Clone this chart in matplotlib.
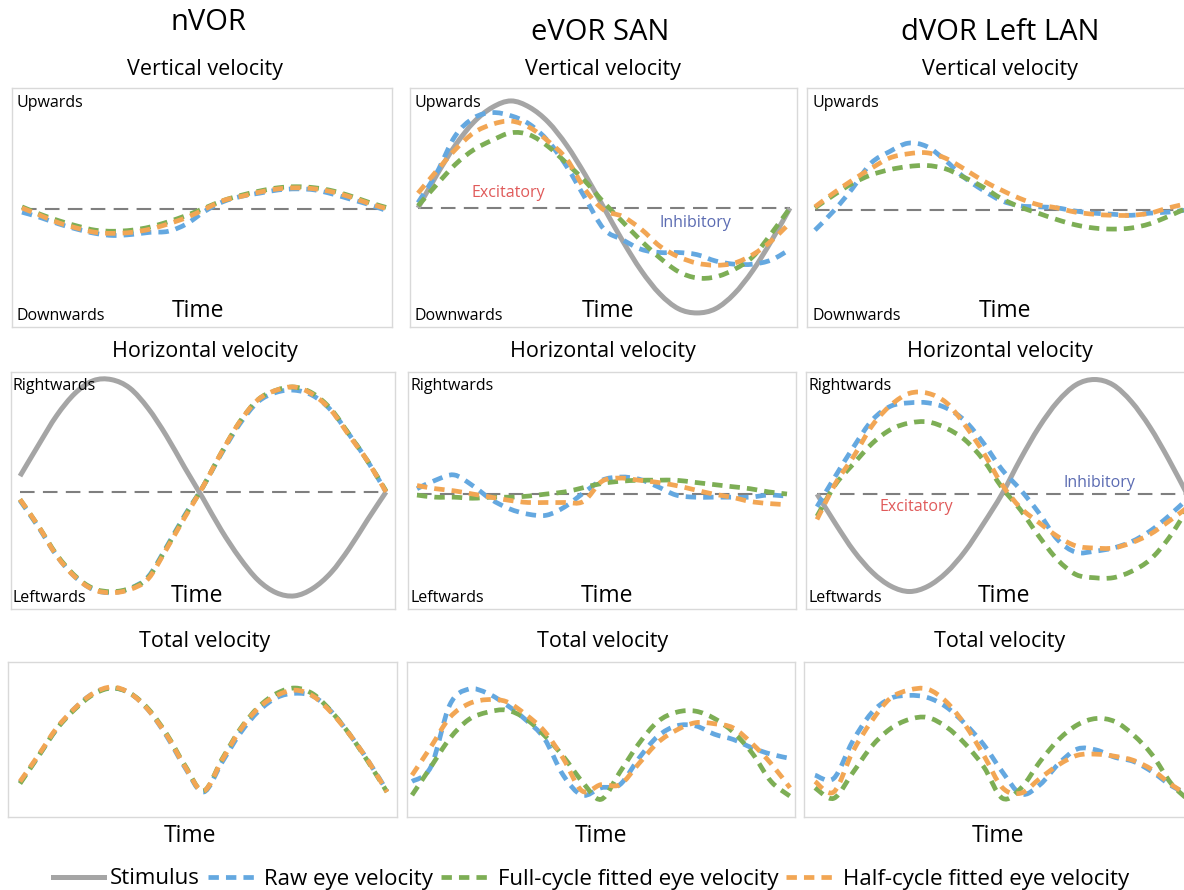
import numpy as np
import matplotlib.pyplot as plt
from matplotlib.lines import Line2D
from matplotlib.path import Path
from matplotlib.patches import PathPatch

plt.rcParams['font.family'] = ['Open Sans', 'DejaVu Sans']

W, H = 1184, 890

# time axis, one cycle
T = np.linspace(0, 1, 21)

# ── nVOR ────────────────────────────────────────────────────────────────
NVOR_VERT_RAW = [-0.03, -0.08, -0.14, -0.19, -0.23, -0.25, -0.24, -0.22, -0.21, -0.14, -0.02,
                 0.07, 0.12, 0.15, 0.18, 0.19, 0.18, 0.14, 0.09, 0.04, -0.02]
NVOR_VERT_FULL = [0.02, -0.05, -0.11, -0.16, -0.20, -0.21, -0.20, -0.17, -0.12, -0.06, 0.01,
                  0.08, 0.13, 0.17, 0.20, 0.21, 0.20, 0.17, 0.12, 0.06, 0.01]
NVOR_VERT_HALF = [0.01, -0.06, -0.13, -0.18, -0.22, -0.23, -0.22, -0.19, -0.14, -0.08, 0.00,
                  0.08, 0.12, 0.16, 0.19, 0.20, 0.19, 0.16, 0.11, 0.05, 0.00]

NVOR_HOR_STIM = [0.15, 0.44, 0.72, 0.93, 1.05, 1.06, 0.98, 0.79, 0.53, 0.23, -0.06,
                 -0.36, -0.62, -0.83, -0.95, -0.98, -0.91, -0.76, -0.53, -0.26, 0.00]
NVOR_HOR_RAW = [-0.08, -0.33, -0.60, -0.80, -0.92, -0.95, -0.91, -0.80, -0.52, -0.22, 0.05,
                0.36, 0.64, 0.85, 0.94, 0.96, 0.91, 0.77, 0.54, 0.29, 0.00]
NVOR_HOR_FULL = [-0.07, -0.32, -0.59, -0.79, -0.91, -0.94, -0.91, -0.81, -0.53, -0.23, 0.05,
                 0.37, 0.66, 0.87, 0.96, 0.99, 0.93, 0.78, 0.54, 0.29, 0.01]
NVOR_HOR_HALF = [-0.07, -0.32, -0.60, -0.80, -0.92, -0.95, -0.92, -0.82, -0.54, -0.24, 0.05,
                 0.37, 0.66, 0.87, 0.96, 0.99, 0.92, 0.77, 0.53, 0.29, 0.00]

NVOR_TOT_RAW = [0.09, 0.34, 0.60, 0.80, 0.94, 0.99, 0.94, 0.78, 0.53, 0.23, 0.00,
                0.28, 0.56, 0.77, 0.90, 0.94, 0.91, 0.76, 0.54, 0.29, 0.01]
NVOR_TOT_FULL = [0.08, 0.34, 0.60, 0.79, 0.93, 0.99, 0.94, 0.79, 0.55, 0.25, 0.01,
                 0.31, 0.60, 0.81, 0.94, 0.99, 0.93, 0.76, 0.54, 0.28, 0.00]
NVOR_TOT_HALF = [0.10, 0.35, 0.61, 0.80, 0.94, 1.00, 0.94, 0.78, 0.54, 0.24, 0.01,
                 0.30, 0.59, 0.80, 0.92, 0.97, 0.91, 0.75, 0.54, 0.29, 0.00]

# ── eVOR SAN ────────────────────────────────────────────────────────────
EVOR_VERT_STIM = [0.00, 0.31, 0.59, 0.81, 0.95, 1.01, 0.95, 0.81, 0.59, 0.31, 0.00,
                  -0.31, -0.59, -0.81, -0.95, -0.99, -0.95, -0.81, -0.59, -0.31, 0.00]
EVOR_VERT_RAW = [0.05, 0.33, 0.68, 0.85, 0.90, 0.87, 0.79, 0.63, 0.39, 0.09, -0.20,
                 -0.30, -0.39, -0.42, -0.42, -0.44, -0.50, -0.53, -0.53, -0.49, -0.39]
EVOR_VERT_FULL = [0.02, 0.22, 0.41, 0.55, 0.64, 0.71, 0.69, 0.58, 0.42, 0.25, 0.05,
                  -0.13, -0.31, -0.47, -0.60, -0.66, -0.65, -0.58, -0.46, -0.24, 0.00]
EVOR_VERT_HALF = [0.14, 0.35, 0.55, 0.71, 0.79, 0.82, 0.76, 0.63, 0.46, 0.17, -0.02,
                  -0.08, -0.20, -0.36, -0.46, -0.52, -0.54, -0.52, -0.44, -0.31, -0.14]

EVOR_HOR_RAW = [0.05, 0.13, 0.18, 0.08, -0.05, -0.14, -0.19, -0.20, -0.12, 0.01, 0.13,
                0.16, 0.14, 0.07, -0.01, -0.03, -0.03, -0.03, -0.03, -0.01, -0.02]
EVOR_HOR_FULL = [-0.01, -0.03, -0.03, -0.04, -0.03, -0.03, -0.02, 0.00, 0.02, 0.06, 0.10,
                 0.12, 0.13, 0.13, 0.13, 0.11, 0.09, 0.07, 0.05, 0.02, 0.00]
EVOR_HOR_HALF = [0.08, 0.05, 0.03, 0.00, -0.03, -0.06, -0.08, -0.08, -0.08, -0.07, 0.12,
                 0.15, 0.13, 0.11, 0.08, 0.04, 0.00, -0.03, -0.07, -0.09, -0.10]

EVOR_TOT_RAW = [0.10, 0.24, 0.83, 0.98, 0.94, 0.83, 0.69, 0.51, 0.16, -0.03, 0.04,
                0.07, 0.32, 0.53, 0.63, 0.63, 0.55, 0.50, 0.42, 0.36, 0.32]
EVOR_TOT_FULL = [-0.03, 0.24, 0.51, 0.69, 0.76, 0.78, 0.70, 0.54, 0.34, 0.10, -0.07,
                 0.19, 0.46, 0.67, 0.76, 0.77, 0.70, 0.57, 0.37, 0.10, -0.04]
EVOR_TOT_HALF = [0.16, 0.43, 0.71, 0.84, 0.88, 0.86, 0.74, 0.58, 0.32, 0.01, 0.07,
                 0.07, 0.27, 0.47, 0.59, 0.66, 0.65, 0.61, 0.46, 0.27, 0.04]

# ── dVOR Left LAN ───────────────────────────────────────────────────────
DVOR_VERT_RAW = [-0.19, -0.01, 0.20, 0.44, 0.55, 0.63, 0.60, 0.47, 0.31, 0.19, 0.09,
                 0.04, 0.03, 0.02, -0.01, -0.03, -0.04, -0.05, -0.03, -0.02, 0.00]
DVOR_VERT_FULL = [0.02, 0.14, 0.25, 0.33, 0.38, 0.41, 0.42, 0.39, 0.31, 0.22, 0.11,
                  0.03, -0.03, -0.09, -0.14, -0.17, -0.18, -0.17, -0.13, -0.06, 0.02]
DVOR_VERT_HALF = [0.03, 0.16, 0.28, 0.39, 0.49, 0.53, 0.54, 0.49, 0.39, 0.28, 0.19,
                  0.11, 0.05, 0.02, -0.02, -0.04, -0.05, -0.05, -0.03, 0.02, 0.06]

DVOR_HOR_STIM = [0.00, -0.28, -0.54, -0.74, -0.87, -0.92, -0.87, -0.74, -0.54, -0.28, 0.00,
                 0.33, 0.63, 0.87, 1.03, 1.08, 1.03, 0.87, 0.63, 0.33, 0.00]
DVOR_HOR_RAW = [-0.12, 0.17, 0.45, 0.70, 0.83, 0.86, 0.86, 0.81, 0.69, 0.48, 0.23,
                0.04, -0.18, -0.43, -0.55, -0.54, -0.51, -0.45, -0.35, -0.21, -0.05]
DVOR_HOR_FULL = [-0.21, 0.09, 0.29, 0.48, 0.61, 0.67, 0.68, 0.62, 0.51, 0.32, 0.06,
                 -0.15, -0.40, -0.62, -0.76, -0.79, -0.79, -0.73, -0.62, -0.42, -0.15]
DVOR_HOR_HALF = [-0.24, 0.10, 0.36, 0.65, 0.84, 0.95, 0.95, 0.86, 0.65, 0.39, 0.09,
                 -0.13, -0.27, -0.40, -0.49, -0.51, -0.51, -0.46, -0.38, -0.26, -0.13]

DVOR_TOT_RAW = [0.16, 0.13, 0.48, 0.75, 0.89, 0.92, 0.90, 0.81, 0.65, 0.45, 0.19,
                -0.02, 0.07, 0.27, 0.41, 0.40, 0.33, 0.29, 0.19, 0.06, -0.03]
DVOR_TOT_FULL = [0.04, -0.06, 0.18, 0.43, 0.60, 0.69, 0.71, 0.62, 0.46, 0.24, -0.06,
                 0.04, 0.29, 0.50, 0.64, 0.70, 0.67, 0.54, 0.35, 0.08, -0.09]
DVOR_TOT_HALF = [0.10, 0.00, 0.38, 0.67, 0.89, 0.97, 0.98, 0.86, 0.64, 0.35, 0.04,
                 -0.01, 0.13, 0.26, 0.35, 0.36, 0.34, 0.30, 0.21, 0.07, -0.04]

CONDITIONS = ['nVOR', 'eVOR SAN', 'dVOR Left LAN']
ROW_TITLES = ['Vertical velocity', 'Horizontal velocity', 'Total velocity']
LEGEND_LABELS = ['Stimulus', 'Raw eye velocity',
                 'Full-cycle fitted eye velocity', 'Half-cycle fitted eye velocity']

# ── style ───────────────────────────────────────────────────────────────
C_STIM = '#a5a5a5'
C_RAW = '#64a8e0'
C_FULL = '#7dae55'
C_HALF = '#f2a654'
C_ZERO = '#7f7f7f'
C_EXC = '#e05a5a'
C_INH = '#5b6bb2'
STIM_LW = 3.6
EYE_LW = 3.4
EYE_DASH = (2.2, 1.5)


def fx(x):
    return x / W


def fy(y):
    return 1 - y / H


def smooth_path(x, y):
    """Smoothed (Catmull-Rom style) Bezier path through the given points."""
    p = np.column_stack([x, y]).astype(float)
    ext = np.vstack([p[0], p, p[-1]])
    verts, codes = [p[0]], [Path.MOVETO]
    for i in range(len(p) - 1):
        a, b, c, d = ext[i], ext[i + 1], ext[i + 2], ext[i + 3]
        verts += [b + (c - a) / 6, c - (d - b) / 6, c]
        codes += [Path.CURVE4] * 3
    return Path(verts, codes)


def smooth_line(ax, x, y, **kw):
    ax.add_patch(PathPatch(smooth_path(x, y), fill=False, **kw))


# panel geometry in pixels: box (x0, y0, x1, y1), curve start/end x, zero line y
PANELS = [
    (0, 0, (12, 88, 392, 327), (22, 388), 209, None, NVOR_VERT_RAW, NVOR_VERT_FULL, NVOR_VERT_HALF),
    (0, 1, (410, 88, 797, 327), (418, 790), 208, EVOR_VERT_STIM, EVOR_VERT_RAW, EVOR_VERT_FULL, EVOR_VERT_HALF),
    (0, 2, (807, 88, 1195, 327), (815, 1187), 210, None, DVOR_VERT_RAW, DVOR_VERT_FULL, DVOR_VERT_HALF),
    (1, 0, (11, 372, 395, 609), (20, 386), 492, NVOR_HOR_STIM, NVOR_HOR_RAW, NVOR_HOR_FULL, NVOR_HOR_HALF),
    (1, 1, (408, 372, 796, 609), (417, 787), 494, None, EVOR_HOR_RAW, EVOR_HOR_FULL, EVOR_HOR_HALF),
    (1, 2, (806, 372, 1195, 609), (817, 1187), 494, DVOR_HOR_STIM, DVOR_HOR_RAW, DVOR_HOR_FULL, DVOR_HOR_HALF),
    (2, 0, (8, 662, 397, 817), (20, 387), 792, None, NVOR_TOT_RAW, NVOR_TOT_FULL, NVOR_TOT_HALF),
    (2, 1, (407, 662, 795, 817), (412, 790), 792, None, EVOR_TOT_RAW, EVOR_TOT_FULL, EVOR_TOT_HALF),
    (2, 2, (804, 662, 1195, 817), (815, 1190), 792, None, DVOR_TOT_RAW, DVOR_TOT_FULL, DVOR_TOT_HALF),
]
SCALE = [106, 106, 105]

fig = plt.figure(figsize=(W / 100, H / 100), dpi=100)

for row, col, box, span, zero, stim, raw, full, half in PANELS:
    x0, y0, x1, y1 = box
    xs, xe = span
    ax = fig.add_axes([fx(x0), fy(y1), (x1 - x0) / W, (y1 - y0) / H])
    s = SCALE[row]
    ax.set_xlim((x0 - xs) / (xe - xs), (x1 - xs) / (xe - xs))
    ax.set_ylim((zero - y1) / s, (zero - y0) / s)
    ax.set_xticks([])
    ax.set_yticks([])
    for sp in ax.spines.values():
        sp.set_color('#d9d9d9')
        sp.set_linewidth(1.0)

    if row < 2:
        ax.hlines(0, T[0], T[-1], color=C_ZERO, lw=1.5, linestyles=(0, (7, 4)), zorder=1)
    if stim is not None:
        smooth_line(ax, T, stim, edgecolor=C_STIM, lw=STIM_LW, zorder=2)
    for vals, c in ((raw, C_RAW), (full, C_FULL), (half, C_HALF)):
        smooth_line(ax, T, vals, edgecolor=c, lw=EYE_LW, linestyle=(0, EYE_DASH), zorder=3)

# ── titles ──────────────────────────────────────────────────────────────
fig.text(fx(208), fy(23), CONDITIONS[0], fontsize=21, ha='center', va='center')
fig.text(fx(600), fy(32), CONDITIONS[1], fontsize=21, ha='center', va='center')
fig.text(fx(1000), fy(32), CONDITIONS[2], fontsize=21, ha='center', va='center')

COL_CX = [205, 603, 1000]
for r, yc in enumerate([70, 352, 641]):
    for cx in COL_CX:
        fig.text(fx(cx), fy(yc), ROW_TITLES[r], fontsize=15.5, ha='center', va='center')

# direction labels inside the boxes
LBL = 11.5
for lx in (16, 415, 813):
    fig.text(fx(lx), fy(103), 'Upwards', fontsize=LBL, va='center')
    fig.text(fx(lx), fy(316), 'Downwards', fontsize=LBL, va='center')
for lx in (13, 411, 808):
    fig.text(fx(lx), fy(386), 'Rightwards', fontsize=LBL, va='center')
    fig.text(fx(lx), fy(598), 'Leftwards', fontsize=LBL, va='center')

for tx in (198, 608, 1005):
    fig.text(fx(tx), fy(311), 'Time', fontsize=16.5, ha='center', va='center')
for tx in (197, 607, 1004):
    fig.text(fx(tx), fy(596), 'Time', fontsize=16.5, ha='center', va='center')
for tx in (190, 601, 998):
    fig.text(fx(tx), fy(836), 'Time', fontsize=16.5, ha='center', va='center')

fig.text(fx(508), fy(193), 'Excitatory', fontsize=LBL, color=C_EXC, ha='center', va='center')
fig.text(fx(695), fy(223), 'Inhibitory', fontsize=LBL, color=C_INH, ha='center', va='center')
fig.text(fx(916), fy(507), 'Excitatory', fontsize=LBL, color=C_EXC, ha='center', va='center')
fig.text(fx(1099), fy(483), 'Inhibitory', fontsize=LBL, color=C_INH, ha='center', va='center')

# ── legend ──────────────────────────────────────────────────────────────
handles = [
    Line2D([], [], color=C_STIM, lw=STIM_LW),
    Line2D([], [], color=C_RAW, lw=EYE_LW, dashes=EYE_DASH),
    Line2D([], [], color=C_FULL, lw=EYE_LW, dashes=EYE_DASH),
    Line2D([], [], color=C_HALF, lw=EYE_LW, dashes=EYE_DASH),
]
fig.legend(handles, LEGEND_LABELS, loc='center', bbox_to_anchor=(fx(591), fy(879)),
           ncol=4, frameon=False, fontsize=16, handlelength=2.3,
           handletextpad=0.25, columnspacing=0.35, borderpad=0)

fig.savefig('out.png', dpi=100)
